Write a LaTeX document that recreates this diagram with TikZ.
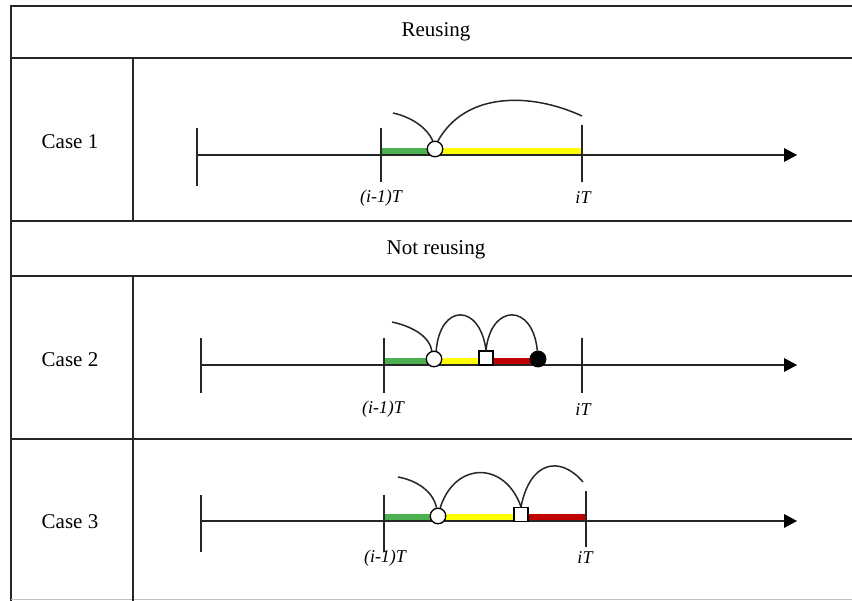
\documentclass[tikz,border=0pt]{standalone}
\usepackage{fontspec}
\setmainfont{Liberation Serif}
\usetikzlibrary{arrows.meta}
\definecolor{greenbarc}{RGB}{76,175,80}
\definecolor{yellowbarc}{RGB}{255,255,0}
\definecolor{redbarc}{RGB}{192,0,0}
\tikzset{
  grid/.style={line width=1.8pt, black!85},
  axis/.style={line width=1.4pt, black!85, -{Triangle[length=13pt,width=14pt,fill=black,line width=0pt]}},
  tick/.style={line width=1.4pt, black!85},
  curve/.style={line width=1.5pt, black!85},
  evc/.style={circle, draw, line width=1.3pt, fill=white, minimum size=15.5pt, inner sep=0pt},
  evb/.style={circle, draw, line width=1.3pt, fill=black, minimum size=15.5pt, inner sep=0pt},
  evs/.style={rectangle, draw, line width=1.3pt, fill=white, minimum size=14pt, inner sep=0pt},
  hdr/.style={font=\fontsize{21}{24}\selectfont},
  lbl/.style={font=\fontsize{18}{20}\selectfont\itshape},
}
\begin{document}
\begin{tikzpicture}[x=1pt,y=-1pt]
\useasboundingbox (0,0) rectangle (852,601);
% table
\draw[grid] (852,6) -- (11,6) -- (11,601);
\draw[grid] (11,58) -- (852,58);
\draw[grid] (11,221) -- (852,221);
\draw[grid] (11,276) -- (852,276);
\draw[grid] (11,439) -- (852,439);
\draw[line width=1.2pt, black!25] (11,599.5) -- (852,599.5);
\draw[grid] (133,58) -- (133,221);
\draw[grid] (133,276) -- (133,601);
\node[hdr] (h1) at (436,32) {Reusing};
\node[hdr] (h2) at (436,250) {Not reusing};
\node[hdr] (k1) at (70,142) {Case 1};
\node[hdr] (k2) at (70,360) {Case 2};
\node[hdr] (k3) at (70,522) {Case 3};

% ---- Case 1
\fill[fill=greenbarc] (381,148) rectangle (430,155);
\fill[fill=yellowbarc] (440,148) rectangle (582,155);
\coordinate (a1s) at (197,155);
\coordinate (a1e) at (797,155);
\draw[axis] (a1s) -- (a1e);
\draw[tick] (197,128) -- (197,186);
\draw[tick] (381,128) -- (381,182);
\draw[tick] (582,125) -- (582,182);
\node[evc] (c1) at (435,149) {};
\coordinate (p1) at (393,113);
\coordinate (q1) at (582,116);
\draw[curve] (p1) .. controls (415,118) and (428,130) .. (c1.105);
\draw[curve] (c1.70) .. controls (465,92) and (530,92) .. (q1);
\node[lbl] (l1a) at (381,198) {(i-1)T};
\node[lbl] (l1b) at (583,198) {iT};

% ---- Case 2
\fill[fill=greenbarc] (384,358) rectangle (430,365);
\fill[fill=yellowbarc] (440,358) rectangle (480,365);
\fill[fill=redbarc] (492,358) rectangle (534,365);
\draw[axis] (201,365) -- (797,365);
\draw[tick] (201,338) -- (201,393);
\draw[tick] (384,338) -- (384,393);
\draw[tick] (582,338) -- (582,393);
\node[evc] (c2) at (434,359) {};
\node[evs] (s2) at (486,358) {};
\node[evb] (b2) at (538,359) {};
\coordinate (p2) at (392,322);
\draw[curve] (p2) .. controls (415,327) and (430,338) .. (c2.105);
\draw[curve] (c2.75) .. controls (440,303) and (480,303) .. (s2.north);
\draw[curve] (s2.north) .. controls (491,303) and (533,303) .. (b2.95);
\node[lbl] (l2a) at (383,409) {(i-1)T};
\node[lbl] (l2b) at (583,410) {iT};

% ---- Case 3
\fill[fill=greenbarc] (384,514) rectangle (434,521);
\fill[fill=yellowbarc] (444,514) rectangle (514,521);
\fill[fill=redbarc] (527,514) rectangle (586,521);
\draw[axis] (201,521) -- (797,521);
\draw[tick] (201,495) -- (201,552);
\draw[tick] (384,495) -- (384,552);
\draw[tick] (586,491) -- (586,547);
\node[evc] (c3) at (438,516) {};
\node[evs] (s3) at (521,514.5) {};
\coordinate (p3) at (398,477);
\coordinate (q3) at (583,482);
\draw[curve] (p3) .. controls (420,481) and (434,494) .. (c3.100);
\draw[curve] (c3.75) .. controls (455,461) and (505,461) .. (s3.north);
\draw[curve] (s3.north) .. controls (530,461) and (560,455) .. (q3);
\node[lbl] (l3a) at (385,558) {(i-1)T};
\node[lbl] (l3b) at (585,558) {iT};
\end{tikzpicture}
\end{document}
